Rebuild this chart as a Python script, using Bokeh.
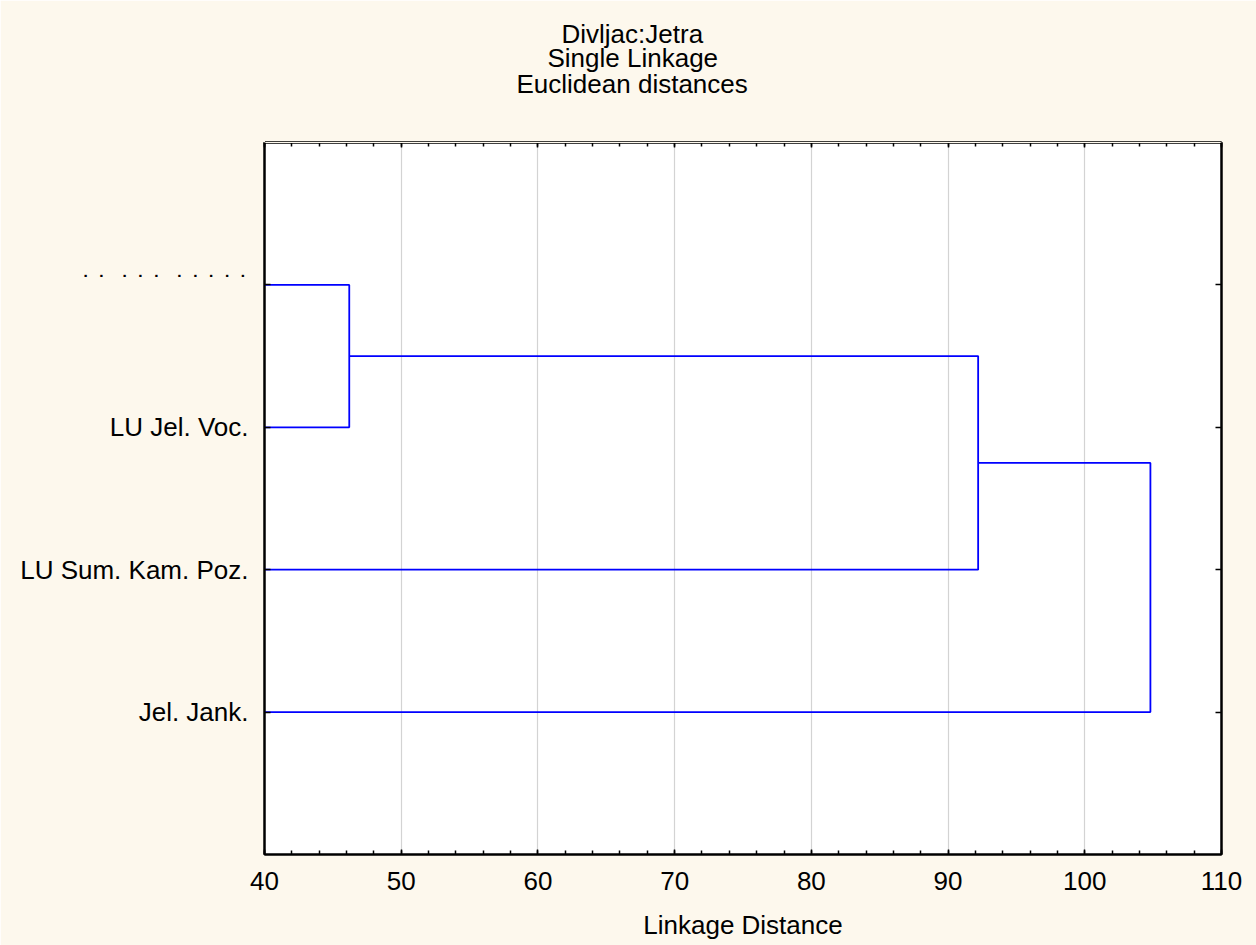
from bokeh.plotting import figure
from bokeh.models import (Range1d, SingleIntervalTicker, FixedTicker, LinearAxis, Title)
from bokeh.embed import file_html
from bokeh.resources import INLINE

# ---- data ----
leaf_labels = ["˙ ˙\u00a0 ˙ ˙ ˙\u00a0 ˙ ˙ ˙ ˙ ˙", "LU Jel. Voc.", "LU Sum. Kam. Poz.", "Jel. Jank."]
leaf_y = [4, 3, 2, 1]
# merges: (left member, right member, linkage distance); members >= 4 are clusters
merge_a = [0, 4, 5]
merge_b = [1, 2, 3]
merge_dist = [46.2, 92.2, 104.8]
x_start = 40.0
title_lines = ["Divljac:Jetra", "Single Linkage", "Euclidean distances"]
title_offsets = [297, 283, 252]
x_label = "Linkage Distance"

FONT = "Liberation Sans"
FS = "26px"
BG = "#fdf8ed"

p = figure(frame_width=957, frame_height=712, width=1256, height=945,
           min_border_left=264, min_border_right=35, min_border_top=142,
           min_border_bottom=91,
           x_range=Range1d(40, 110), y_range=Range1d(0, 5),
           output_backend="svg", toolbar_location=None)
p.background_fill_color = "white"
p.border_fill_color = BG
p.outline_line_color = "black"
p.outline_line_width = 2

# build dendrogram segments
node_x = {i: x_start for i in range(len(leaf_y))}
node_y = {i: y for i, y in enumerate(leaf_y)}
xs, ys = [], []
for k, (a, b, d) in enumerate(zip(merge_a, merge_b, merge_dist)):
    xs.append([node_x[a], d, d, node_x[b]])
    ys.append([node_y[a], node_y[a], node_y[b], node_y[b]])
    nid = len(leaf_y) + k
    node_x[nid] = d
    node_y[nid] = (node_y[a] + node_y[b]) / 2.0
p.multi_line(xs, ys, line_color="#0000ff", line_width=1.8)

# x axis
xt = SingleIntervalTicker(interval=10, num_minor_ticks=5)
xa = p.xaxis[0]
xa.ticker = xt
p.xgrid.ticker = xt
p.xgrid.grid_line_color = "#d3d3d3"
p.xgrid.grid_line_width = 1.2
p.ygrid.grid_line_color = None
xa.major_tick_in = 5
xa.major_tick_out = 0
xa.minor_tick_in = 4
xa.minor_tick_out = 0
xa.axis_line_width = 2
xa.major_tick_line_width = 1.5
xa.minor_tick_line_width = 1.5
xa.major_label_text_font = FONT
xa.major_label_text_font_size = FS
xa.major_label_text_color = "black"
xa.major_label_standoff = 17
xa.axis_label = x_label
xa.axis_label_text_font = FONT
xa.axis_label_text_font_size = FS
xa.axis_label_text_font_style = "normal"
xa.axis_label_text_color = "black"
xa.axis_label_standoff = 17

top = LinearAxis(ticker=xt, major_tick_in=5, major_tick_out=0, minor_tick_in=4,
                 minor_tick_out=0, axis_line_width=2, major_tick_line_width=1.5,
                 minor_tick_line_width=1.5, major_label_text_color=None)
p.add_layout(top, "above")

# spacer between the frame and the title block (background-coloured tick)
spacer = LinearAxis(ticker=FixedTicker(ticks=[40]), major_tick_in=0, major_tick_out=44,
                    minor_tick_in=0, minor_tick_out=0, axis_line_color=BG,
                    major_tick_line_color=BG, minor_tick_line_color=None,
                    major_label_text_color=None)
p.add_layout(spacer, "above")

# y axis
yt = FixedTicker(ticks=leaf_y)
ya = p.yaxis[0]
ya.ticker = yt
ya.major_label_overrides = {y: lab for y, lab in zip(leaf_y, leaf_labels)}
ya.major_tick_in = 6
ya.major_tick_out = 0
ya.major_tick_line_width = 1.5
ya.minor_tick_line_color = None
ya.axis_line_width = 2
ya.major_label_text_font = FONT
ya.major_label_text_font_size = FS
ya.major_label_text_color = "black"
ya.major_label_standoff = 16

right = LinearAxis(ticker=yt, major_tick_in=6, major_tick_out=0,
                   major_tick_line_width=1.5,
                   minor_tick_line_color=None, axis_line_width=2,
                   major_label_text_color=None)
p.add_layout(right, "right")

# title lines, nearest to the frame first
standoffs = [0, -13, -2]
for (t, off), so in zip(reversed(list(zip(title_lines, title_offsets))), standoffs):
    p.add_layout(Title(text=t, align="left", offset=off, text_font=FONT,
                       text_font_size=FS, text_font_style="normal",
                       text_color="black", standoff=so), "above")

open("out.html", "w").write(file_html(p, INLINE))
